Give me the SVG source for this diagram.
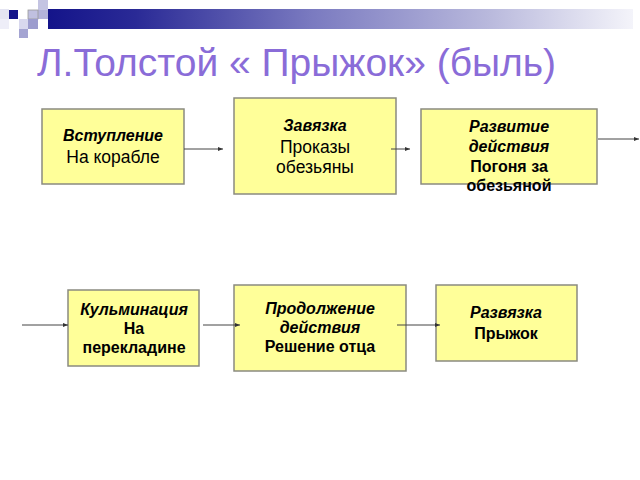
<svg xmlns="http://www.w3.org/2000/svg" width="640" height="480" viewBox="0 0 640 480">
<defs>
<linearGradient id="bar" x1="0" y1="0" x2="1" y2="0">
<stop offset="0" stop-color="#14148a"/>
<stop offset="0.15" stop-color="#2a2a96"/>
<stop offset="0.45" stop-color="#7a7ac0"/>
<stop offset="0.75" stop-color="#b8b8dc"/>
<stop offset="1" stop-color="#f4f4fa"/>
</linearGradient>
<marker id="ah" viewBox="0 0 10 10" refX="10" refY="5" markerWidth="5" markerHeight="5" orient="auto" markerUnits="userSpaceOnUse">
<path d="M0,1 L10,5 L0,9 z" fill="#333"/>
</marker>
<style>
.box{fill:#ffff99;stroke:#8a8a80;stroke-width:1.5}
.t{font-family:"Liberation Sans",Arial,sans-serif;font-size:16px;fill:#000;text-anchor:middle}
.bi{font-weight:bold;font-style:italic}
.b{font-weight:bold}
.r{font-size:17.5px}
.conn line{stroke:#444;stroke-width:1;marker-end:url(#ah)}
.title{font-family:"Liberation Sans",Arial,sans-serif;font-size:39px;fill:#8a6cd8}
</style>
</defs>
<rect width="640" height="480" fill="#fff"/>
<g id="decoration">
<rect x="48" y="9" width="585" height="20" fill="url(#bar)"/>
<rect x="0" y="9" width="9" height="10" fill="#e4e4f2"/>
<rect x="0" y="19" width="9" height="10" fill="#eeeef8"/>
<rect x="9" y="10" width="9" height="9" fill="#14148a"/>
<rect x="38" y="0" width="10" height="10" fill="#c4c4e2"/>
<rect x="38" y="10" width="10" height="9" fill="#b4b4da"/>
<rect x="28" y="10" width="10" height="9" fill="#c0c0e0" stroke="#999" stroke-width="0.8"/>
<rect x="28" y="19" width="10" height="10" fill="#9c9cce"/>
<rect x="19" y="19" width="9" height="10" fill="#d8d8ee"/>
<rect x="19" y="29" width="9" height="9" fill="#a4a4d2"/>
</g>
<text class="title" x="37" y="76">Л.Толстой « Прыжок» (быль)</text>
<g id="n1">
<rect class="box" x="42" y="109" width="142" height="75"/>
<text class="t bi" x="113" y="141">Вступление</text>
<text class="t r" x="113" y="163">На корабле</text>
</g>
<g id="n2">
<rect class="box" x="234" y="98" width="162" height="96"/>
<text class="t bi" x="315" y="131">Завязка</text>
<text class="t r" x="315" y="153">Проказы</text>
<text class="t r" x="315" y="173">обезьяны</text>
</g>
<g id="n3">
<rect class="box" x="421" y="109" width="176" height="75"/>
<text class="t bi" x="509" y="132">Развитие</text>
<text class="t bi" x="509" y="152">действия</text>
<text class="t b" x="509" y="172">Погоня за</text>
<text class="t b" x="509" y="191">обезьяной</text>
</g>
<g id="n4">
<rect class="box" x="68" y="290" width="131" height="76"/>
<text class="t bi" x="134" y="315">Кульминация</text>
<text class="t b" x="134" y="334">На</text>
<text class="t b" x="134" y="353">перекладине</text>
</g>
<g id="n5">
<rect class="box" x="234" y="285" width="172" height="86"/>
<text class="t bi" x="320" y="314">Продолжение</text>
<text class="t bi" x="320" y="333">действия</text>
<text class="t b" x="320" y="352">Решение отца</text>
</g>
<g id="n6">
<rect class="box" x="436" y="285" width="141" height="76"/>
<text class="t bi" x="506" y="318">Развязка</text>
<text class="t b" x="506" y="339">Прыжок</text>
</g>
<g class="conn">
<line x1="184" y1="149" x2="223" y2="149"/>
<line x1="391" y1="149" x2="410" y2="149"/>
<line x1="598" y1="139" x2="639" y2="139"/>
<line x1="22" y1="325" x2="68" y2="325"/>
<line x1="203" y1="325" x2="240" y2="325"/>
<line x1="397" y1="325" x2="440" y2="325"/>
</g>
</svg>
